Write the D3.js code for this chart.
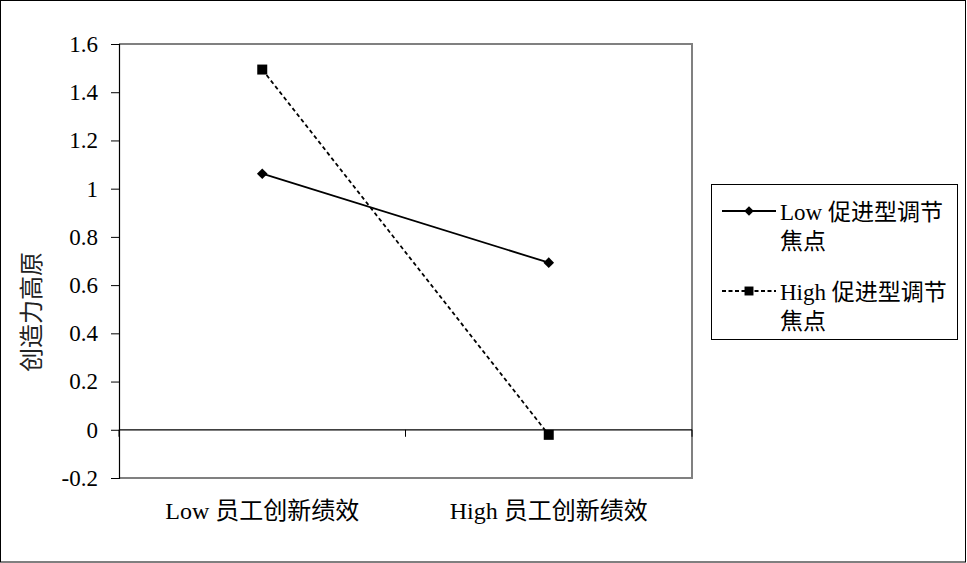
<!DOCTYPE html>
<html>
<head>
<meta charset="utf-8">
<script src="https://cdn.jsdelivr.net/npm/d3@7"></script>
<style>
  body { margin: 0; background: #fff; }
  svg text { font-family: "Liberation Serif", "Times New Roman", "Noto Sans CJK SC", serif; fill: #000; }
</style>
</head>
<body>
<script>
// data
const categories = ["Low 员工创新绩效", "High 员工创新绩效"];
const seriesNames = ["Low 促进型调节焦点", "High 促进型调节焦点"];
const lowValues = [1.062, 0.693];
const highValues = [1.494, -0.021];
const yTicks = [-0.2, 0, 0.2, 0.4, 0.6, 0.8, 1, 1.2, 1.4, 1.6];

const W = 967, H = 563;
const plot = { left: 119, top: 44, right: 692, bottom: 478 };

const svg = d3.select("body").append("svg")
  .attr("width", W).attr("height", H);

// outer frame
svg.append("rect")
  .attr("x", 0.5).attr("y", 0.5)
  .attr("width", W - 2).attr("height", H - 1.5)
  .attr("fill", "none").attr("stroke", "#000");

const x = d3.scaleBand().domain(categories).range([plot.left, plot.right]);
const y = d3.scaleLinear().domain([-0.2, 1.6]).range([plot.bottom, plot.top]);

// plot frame (grey on top, right, bottom)
svg.append("path")
  .attr("d", `M${plot.left},${plot.top}H${plot.right}V${plot.bottom}H${plot.left}`)
  .attr("fill", "none").attr("stroke", "#808080").attr("stroke-width", 2);

// y axis
const yAxis = svg.append("g")
  .attr("transform", `translate(${plot.left},0)`)
  .call(d3.axisLeft(y).tickValues(yTicks).tickSize(8).tickPadding(13)
    .tickFormat(d => String(+d.toFixed(1))));
yAxis.attr("font-family", null).attr("font-size", null);
yAxis.select(".domain").attr("stroke", "#000").attr("stroke-width", 1.2);
yAxis.selectAll(".tick line").attr("stroke", "#000");
yAxis.selectAll(".tick text").style("font-size", "23px");

// x axis along zero line, ticks at category borders
const xAxisG = svg.append("g")
  .attr("transform", `translate(0,${y(0)})`);
xAxisG.append("line")
  .attr("x1", plot.left).attr("x2", plot.right)
  .attr("stroke", "#000").attr("stroke-width", 1.2);
const borders = categories.map(c => x(c)).concat([x(categories[categories.length - 1]) + x.bandwidth()]);
xAxisG.selectAll(".xt").data(borders).enter().append("line")
  .attr("class", "xt")
  .attr("x1", d => d).attr("x2", d => d)
  .attr("y1", 0).attr("y2", 7)
  .attr("stroke", "#000");

// category labels below the plot
svg.selectAll(".cat").data(categories).enter().append("text")
  .attr("class", "cat")
  .attr("x", d => x(d) + x.bandwidth() / 2)
  .attr("y", 519)
  .attr("text-anchor", "middle")
  .style("font-size", "24px")
  .text(d => d);

// y title
svg.append("text")
  .attr("transform", `translate(40,312) rotate(-90)`)
  .attr("text-anchor", "middle")
  .style("font-size", "24px")
  .style("fill", "#222")
  .text("创造力高原");

const line = d3.line()
  .x((d, i) => x(categories[i]) + x.bandwidth() / 2)
  .y(d => y(d));

const series = [
  { name: seriesNames[0], values: lowValues, dash: null, marker: d3.symbolDiamond2, size: 72 },
  { name: seriesNames[1], values: highValues, dash: "4,3", marker: d3.symbolSquare, size: 100 }
];

series.forEach(s => {
  svg.append("path")
    .attr("d", line(s.values))
    .attr("fill", "none")
    .attr("stroke", "#000")
    .attr("stroke-width", 1.8)
    .attr("stroke-dasharray", s.dash);
  svg.selectAll(null).data(s.values).enter().append("path")
    .attr("transform", (d, i) => `translate(${x(categories[i]) + x.bandwidth() / 2},${y(d)})`)
    .attr("d", d3.symbol().type(s.marker).size(s.size))
    .attr("fill", "#000");
});

// legend
const legend = svg.append("g").attr("transform", "translate(711,184)");
legend.append("rect")
  .attr("x", 0.5).attr("y", 0.5)
  .attr("width", 246).attr("height", 155)
  .attr("fill", "#fff").attr("stroke", "#000");

series.forEach((s, i) => {
  const gy = 27 + i * 80;
  const g = legend.append("g").attr("transform", `translate(0,${gy})`);
  g.append("line")
    .attr("x1", 11).attr("x2", 65)
    .attr("stroke", "#000").attr("stroke-width", 1.8)
    .attr("stroke-dasharray", s.dash ? "4,2.5" : null);
  g.append("path")
    .attr("transform", "translate(38,0)")
    .attr("d", d3.symbol().type(s.marker).size(s.size * 0.8))
    .attr("fill", "#000");
  const parts = s.name.split(" ");
  g.append("text")
    .attr("x", 69).attr("y", 9)
    .style("font-size", "23px")
    .text(parts[0] + " " + parts[1].slice(0, 5));
  g.append("text")
    .attr("x", 69).attr("y", 38)
    .style("font-size", "23px")
    .text(parts[1].slice(5));
});
</script>
</body>
</html>
